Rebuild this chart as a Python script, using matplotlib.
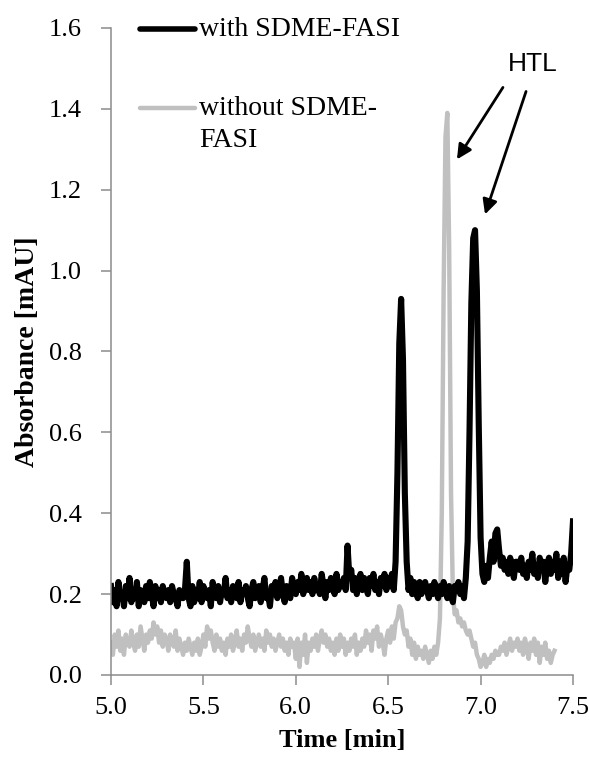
import numpy as np
import matplotlib
matplotlib.use("Agg")
import matplotlib.pyplot as plt
from matplotlib.lines import Line2D

plt.rcParams['font.family'] = ['Liberation Serif', 'DejaVu Serif']

# temps d'acquisition [min], pas de 0.01 min
t_with = np.round(np.arange(5.00, 7.505, 0.01), 2)
t_without = np.round(np.arange(5.00, 7.405, 0.01), 2)

# absorbance [mAU] avec SDME-FASI
abs_with = [
    0.22, 0.18, 0.21, 0.17, 0.23, 0.19, 0.20, 0.17, 0.22, 0.19,
    0.24, 0.18, 0.21, 0.19, 0.23, 0.17, 0.21, 0.20, 0.18, 0.22,
    0.19, 0.23, 0.20, 0.17, 0.22, 0.19, 0.21, 0.18, 0.22, 0.20,
    0.19, 0.21, 0.18, 0.22, 0.20, 0.19, 0.17, 0.21, 0.20, 0.19,
    0.21, 0.28, 0.19, 0.17, 0.22, 0.18, 0.21, 0.19, 0.23, 0.18,
    0.22, 0.20, 0.19, 0.21, 0.17, 0.23, 0.20, 0.19, 0.22, 0.18,
    0.21, 0.20, 0.24, 0.19, 0.21, 0.18, 0.22, 0.20, 0.19, 0.23,
    0.18, 0.21, 0.20, 0.22, 0.19, 0.17, 0.21, 0.23, 0.19, 0.20,
    0.22, 0.18, 0.21, 0.24, 0.19, 0.20, 0.17, 0.22, 0.20, 0.23,
    0.19, 0.21, 0.24, 0.20, 0.18, 0.22, 0.21, 0.19, 0.24, 0.21,
    0.20, 0.23, 0.21, 0.25, 0.20, 0.22, 0.24, 0.21, 0.23, 0.20,
    0.24, 0.21, 0.22, 0.20, 0.25, 0.22, 0.19, 0.23, 0.21, 0.24,
    0.22, 0.20, 0.25, 0.21, 0.23, 0.22, 0.24, 0.21, 0.32, 0.24,
    0.26, 0.21, 0.24, 0.20, 0.23, 0.25, 0.21, 0.24, 0.22, 0.20,
    0.24, 0.22, 0.25, 0.21, 0.23, 0.20, 0.24, 0.22, 0.25, 0.21,
    0.24, 0.22, 0.25, 0.21, 0.28, 0.50, 0.82, 0.93, 0.78, 0.45,
    0.28, 0.21, 0.24, 0.20, 0.23, 0.21, 0.19, 0.23, 0.20, 0.22,
    0.23, 0.21, 0.19, 0.22, 0.20, 0.23, 0.21, 0.19, 0.22, 0.20,
    0.23, 0.21, 0.19, 0.22, 0.20, 0.18, 0.22, 0.21, 0.23, 0.20,
    0.22, 0.19, 0.24, 0.33, 0.60, 0.92, 1.08, 1.10, 0.95, 0.62,
    0.34, 0.25, 0.23, 0.27, 0.24, 0.29, 0.33, 0.28, 0.35, 0.36,
    0.31, 0.27, 0.29, 0.26, 0.28, 0.25, 0.29, 0.27, 0.24, 0.28,
    0.28, 0.26, 0.29, 0.25, 0.27, 0.24, 0.28, 0.26, 0.30, 0.25,
    0.27, 0.24, 0.29, 0.26, 0.28, 0.23, 0.27, 0.29, 0.25, 0.28,
    0.26, 0.30, 0.24, 0.28, 0.25, 0.29, 0.23, 0.27, 0.26, 0.30,
    0.38,
]

# absorbance [mAU] sans SDME-FASI
abs_without = [
    0.08, 0.05, 0.10, 0.07, 0.11, 0.06, 0.09, 0.05, 0.10, 0.08,
    0.07, 0.11, 0.08, 0.06, 0.10, 0.07, 0.12, 0.09, 0.06, 0.10,
    0.08, 0.11, 0.09, 0.13, 0.10, 0.12, 0.08, 0.11, 0.07, 0.10,
    0.09, 0.06, 0.10, 0.08, 0.07, 0.11, 0.06, 0.09, 0.07, 0.05,
    0.08, 0.06, 0.09, 0.07, 0.05, 0.08, 0.06, 0.09, 0.05, 0.07,
    0.10, 0.07, 0.12, 0.09, 0.11, 0.08, 0.06, 0.10, 0.07, 0.09,
    0.06, 0.08, 0.05, 0.09, 0.07, 0.10, 0.06, 0.08, 0.11, 0.07,
    0.09, 0.06, 0.10, 0.08, 0.12, 0.09, 0.07, 0.10, 0.06, 0.08,
    0.10, 0.07, 0.09, 0.06, 0.11, 0.08, 0.10, 0.07, 0.09, 0.06,
    0.08, 0.10, 0.07, 0.09, 0.06, 0.08, 0.05, 0.09, 0.07, 0.08,
    0.04, 0.09, 0.02, 0.08, 0.05, 0.10, 0.03, 0.08, 0.06, 0.09,
    0.07, 0.10, 0.06, 0.09, 0.11, 0.08, 0.10, 0.07, 0.09, 0.06,
    0.08, 0.05, 0.09, 0.06, 0.10, 0.07, 0.09, 0.05, 0.08, 0.06,
    0.09, 0.07, 0.10, 0.05, 0.08, 0.06, 0.09, 0.07, 0.11, 0.08,
    0.10, 0.06, 0.11, 0.09, 0.12, 0.07, 0.10, 0.08, 0.05, 0.09,
    0.11, 0.08, 0.12, 0.09, 0.13, 0.14, 0.17, 0.16, 0.12, 0.10,
    0.11, 0.07, 0.09, 0.05, 0.08, 0.04, 0.07, 0.05, 0.06, 0.04,
    0.07, 0.05, 0.03, 0.06, 0.04, 0.07, 0.05, 0.08, 0.14, 0.40,
    0.95, 1.33, 1.39, 1.05, 0.45, 0.20, 0.15, 0.16, 0.13, 0.14,
    0.12, 0.13, 0.11, 0.10, 0.11, 0.09, 0.07, 0.08, 0.05, 0.04,
    0.02, 0.03, 0.05, 0.02, 0.04, 0.03, 0.05, 0.04, 0.06, 0.05,
    0.05, 0.07, 0.06, 0.08, 0.05, 0.07, 0.09, 0.06, 0.08, 0.07,
    0.09, 0.06, 0.08, 0.05, 0.09, 0.07, 0.04, 0.08, 0.06, 0.09,
    0.05, 0.08, 0.03, 0.07, 0.05, 0.08, 0.04, 0.06, 0.03, 0.05,
    0.06,
]

x_ticks = [5.0, 5.5, 6.0, 6.5, 7.0, 7.5]
y_ticks = [0.0, 0.2, 0.4, 0.6, 0.8, 1.0, 1.2, 1.4, 1.6]

fig = plt.figure(figsize=(5.89, 7.58), dpi=100)
ax = fig.add_axes([0.1885, 0.1095, 0.7843, 0.8536])

ax.plot(t_without, abs_without, color="#c0c0c0", lw=3.2, solid_joinstyle="round")
ax.plot(t_with, abs_with, color="black", lw=4.4, solid_joinstyle="round")

ax.set_xlim(5.0, 7.5)
ax.set_ylim(0.0, 1.6)
ax.set_xticks(x_ticks)
ax.set_xticklabels([f"{v:.1f}" for v in x_ticks])
ax.set_yticks(y_ticks)
ax.set_yticklabels([f"{v:.1f}" for v in y_ticks])

for s in ("top", "right"):
    ax.spines[s].set_visible(False)
for s in ("left", "bottom"):
    ax.spines[s].set_color("#8c8c8c")
    ax.spines[s].set_linewidth(1.1)
ax.tick_params(direction="out", length=7, width=1.1, color="#8c8c8c",
               labelsize=19)
ax.tick_params(axis="y", pad=14)
ax.tick_params(axis="x", pad=9)

ax.set_xlabel("Time [min]", fontsize=19, fontweight="bold", labelpad=7)
ax.set_ylabel("Absorbance [mAU]", fontsize=20, fontweight="bold", labelpad=6)

# légende dessinée à la main (comme l'original)
fig.add_artist(Line2D([0.238, 0.331], [0.9617, 0.9617], color="black",
                      lw=4.0, solid_capstyle="round"))
fig.text(0.338, 0.9617, "with SDME-FASI", fontsize=20, va="center")
fig.add_artist(Line2D([0.238, 0.331], [0.857, 0.857], color="#c0c0c0",
                      lw=3.2, solid_capstyle="round"))
fig.text(0.338, 0.857, "without SDME-", fontsize=20, va="center")
fig.text(0.338, 0.815, "FASI", fontsize=20, va="center")

# annotation HTL
ax.text(7.28, 1.51, "HTL", fontsize=19, family="Liberation Sans",
        ha="center", va="center")
arrow = dict(arrowstyle="-|>", lw=2.0, color="black", mutation_scale=22,
             shrinkA=0, shrinkB=0)
ax.annotate("", xy=(6.872, 1.275), xytext=(7.121, 1.453), arrowprops=arrow)
ax.annotate("", xy=(7.024, 1.139), xytext=(7.246, 1.443), arrowprops=arrow)

fig.savefig("out.png", dpi=100)
